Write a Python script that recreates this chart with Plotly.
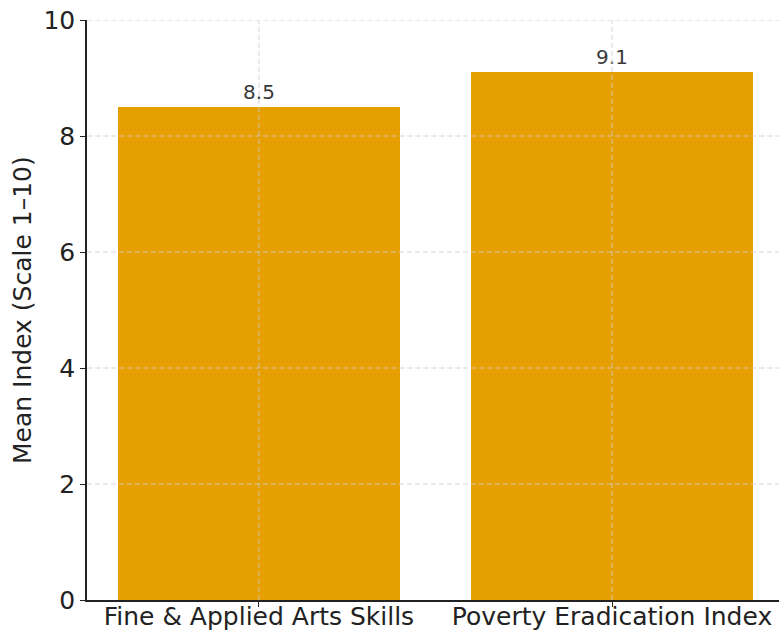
import plotly.graph_objects as go

categories = ["Fine & Applied Arts Skills", "Poverty Eradication Index"]
values = [8.5, 9.1]
value_labels = ["8.5", "9.1"]
y_ticks = [0, 2, 4, 6, 8, 10]
x_pos = [0, 1]
y_title = "Mean Index (Scale 1–10)"

GRID = "rgba(205,205,205,0.85)"

fig = go.Figure()
fig.add_trace(go.Bar(
    x=x_pos, y=values, width=0.8,
    marker=dict(color="#E69F00", line=dict(width=0)),
    text=value_labels, textposition="outside", cliponaxis=False,
    textfont=dict(family="DejaVu Sans", size=20, color="#3a3a3a"),
))

shapes = []
for yv in y_ticks[1:]:
    shapes.append(dict(type="line", xref="paper", yref="y", x0=0, x1=1, y0=yv, y1=yv,
                       line=dict(color=GRID, width=1, dash="5px,3px"), layer="above"))
for xv in x_pos:
    shapes.append(dict(type="line", xref="x", yref="paper", x0=xv, x1=xv, y0=0, y1=1,
                       line=dict(color=GRID, width=1, dash="5px,3px"), layer="above"))

fig.update_layout(
    width=779, height=633,
    margin=dict(l=87, r=0, t=20, b=33),
    plot_bgcolor="white", paper_bgcolor="white",
    showlegend=False,
    font=dict(family="DejaVu Sans", color="#222222"),
    bargap=0,
    shapes=shapes,
    annotations=[dict(text=y_title, xref="paper", yref="paper",
                      x=(22 - 87) / 692, y=0.5, xanchor="center", yanchor="middle",
                      textangle=-90, showarrow=False,
                      font=dict(size=25, color="#222222", family="DejaVu Sans"))],
)
fig.update_xaxes(
    range=[-0.487, 1.473], automargin=False,
    tickmode="array", tickvals=x_pos, ticktext=categories,
    tickfont=dict(size=25, color="#222222"), ticklabelstandoff=-12,
    showline=True, linecolor="#222222", linewidth=1.5,
    ticks="outside", ticklen=5, tickcolor="#222222",
    showgrid=False, zeroline=False, layer="above traces",
)
fig.update_yaxes(
    range=[0, 10], automargin=False,
    tickmode="array", tickvals=y_ticks,
    tickfont=dict(size=25, color="#222222"),
    showline=True, linecolor="#222222", linewidth=1.5,
    ticks="outside", ticklen=5, tickcolor="#222222",
    showgrid=False, zeroline=False, layer="above traces",
)

fig.write_html("out.html")
